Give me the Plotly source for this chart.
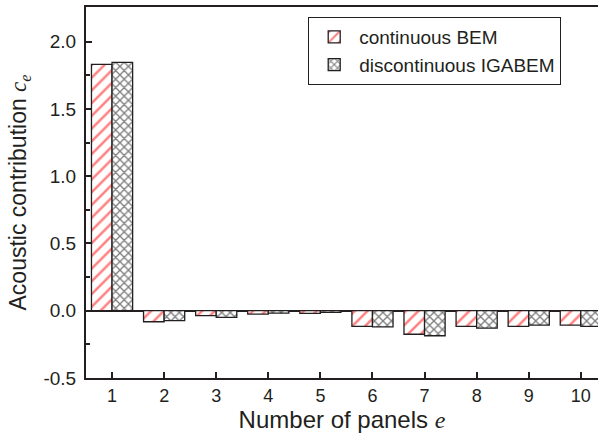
import plotly.graph_objects as go

panels = [1, 2, 3, 4, 5, 6, 7, 8, 9, 10]
continuous_bem = [1.83, -0.082, -0.037, -0.025, -0.02, -0.116, -0.175, -0.116, -0.116, -0.107]
discontinuous_igabem = [1.846, -0.074, -0.05, -0.018, -0.012, -0.12, -0.186, -0.13, -0.107, -0.116]
y_ticks = [-0.5, 0.0, 0.5, 1.0, 1.5, 2.0]
y_tick_labels = ["-0.5", "0.0", "0.5", "1.0", "1.5", "2.0"]

ink = "#231f20"
serif = "Liberation Serif, Times New Roman, serif"
fig = go.Figure()
fig.add_trace(go.Bar(
    x=panels, y=continuous_bem, name="continuous BEM",
    marker=dict(color="white", line=dict(color=ink, width=1.3),
                pattern=dict(shape="/", fgcolor="#ff0000", bgcolor="white", size=9, solidity=0.28, fillmode="overlay")),
))
fig.add_trace(go.Bar(
    x=panels, y=discontinuous_igabem, name="discontinuous IGABEM",
    marker=dict(color="white", line=dict(color=ink, width=1.3),
                pattern=dict(shape="x", fgcolor="#000000", bgcolor="white", size=6, solidity=0.4, fillmode="overlay")),
))

fig.update_layout(
    width=598, height=443,
    margin=dict(l=86, r=0, t=7, b=65),
    paper_bgcolor="white", plot_bgcolor="white",
    barmode="group", bargap=0.21, bargroupgap=0,
    font=dict(family="Liberation Sans, Arial, sans-serif", color=ink, size=18),
    showlegend=True,
    legend=dict(x=0.434, y=0.973, xanchor="left", yanchor="top",
                bordercolor=ink, borderwidth=1, bgcolor="white",
                font=dict(size=19), tracegroupgap=0, itemwidth=40),
    xaxis=dict(
        range=[0.5, 10.33], tickmode="array", tickvals=panels,
        ticks="inside", ticklen=6, tickwidth=2, tickcolor=ink,
        showline=True, linecolor=ink, linewidth=2, mirror=True,
        showgrid=False, zeroline=False, automargin=False,
        tickfont=dict(size=18),
        title=dict(text=f"Number of panels <span style='font-family:{serif}'><i>e</i></span>",
                   font=dict(size=24), standoff=6),
    ),
    yaxis=dict(
        range=[-0.5, 2.257], tickmode="array", tickvals=y_ticks, ticktext=y_tick_labels,
        ticks="inside", ticklen=6, tickwidth=2, tickcolor=ink, ticklabelstandoff=4,
        minor=dict(ticks="inside", ticklen=4, tickwidth=2, tickcolor=ink, dtick=0.25, tick0=0),
        showline=True, linecolor=ink, linewidth=2,
        showgrid=False, zeroline=True, zerolinecolor=ink, zerolinewidth=2, automargin=False,
        tickfont=dict(size=19),
        title=dict(text=f"Acoustic contribution <span style='font-family:{serif}'><i>c<sub>e</sub></i></span>",
                   font=dict(size=23), standoff=10),
    ),
)

fig.write_html("out.html", config={"displayModeBar": False},
               post_script="document.body.style.margin='0';")
